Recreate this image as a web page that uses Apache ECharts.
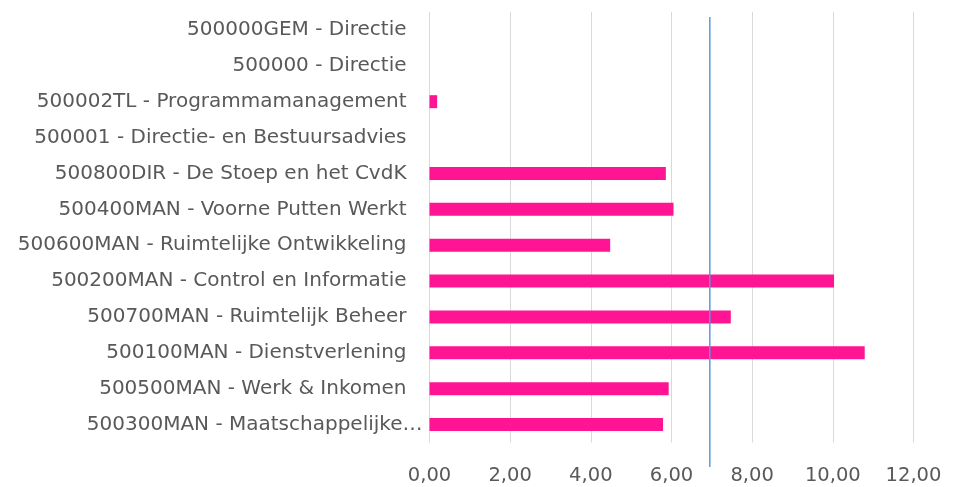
<!DOCTYPE html>
<html>
<head>
<meta charset="utf-8">
<script src="https://cdn.jsdelivr.net/npm/echarts@6/dist/echarts.min.js"></script>
<style>html,body{margin:0;padding:0;background:#fff}#c{width:957px;height:487px}</style>
</head>
<body>
<div id="c"></div>
<script>
const categories = [
  "500000GEM - Directie",
  "500000 - Directie",
  "500002TL - Programmamanagement",
  "500001 - Directie- en Bestuursadvies",
  "500800DIR - De Stoep en het CvdK",
  "500400MAN - Voorne Putten Werkt",
  "500600MAN - Ruimtelijke Ontwikkeling",
  "500200MAN - Control en Informatie",
  "500700MAN - Ruimtelijk Beheer",
  "500100MAN - Dienstverlening",
  "500500MAN - Werk & Inkomen",
  "500300MAN - Maatschappelijke…"
];
const values = [0, 0, 0.19, 0, 5.86, 6.05, 4.48, 10.03, 7.47, 10.79, 5.93, 5.79];
const referenceValue = 6.95;
const xTicks = [0, 2, 4, 6, 8, 10, 12];

const chart = echarts.init(document.getElementById('c'));
const fmt = v => v.toFixed(2).replace('.', ',');
const font = '"DejaVu Sans", sans-serif';
const catData = categories.map((c, i) => i === categories.length - 1
  ? {value: c, textStyle: {padding: [0, -16, 0, 0]}}
  : c);
chart.setOption({
  animation: false,
  grid: [
    {left: 429.5, right: 43.5, top: 12, bottom: 44.5},
    {left: 429.5, right: 43.5, top: 17, bottom: 20}
  ],
  xAxis: [
    {
      gridIndex: 0, type: 'value', min: xTicks[0], max: xTicks[xTicks.length - 1], interval: 2,
      axisLine: {show: false}, axisTick: {show: false},
      splitLine: {lineStyle: {color: '#d9d9d9', width: 1}},
      axisLabel: {formatter: fmt, color: '#595959', fontSize: 19.5, fontFamily: font, margin: 23}
    },
    {
      gridIndex: 1, type: 'value', min: xTicks[0], max: xTicks[xTicks.length - 1],
      show: false
    }
  ],
  yAxis: [
    {
      gridIndex: 0, type: 'category', data: catData, inverse: true,
      axisLine: {show: false}, axisTick: {show: false},
      axisLabel: {color: '#595959', fontSize: 20, fontFamily: font, margin: 23}
    },
    {gridIndex: 1, type: 'value', min: 0, max: 1, show: false}
  ],
  series: [
    {
      type: 'bar', xAxisIndex: 0, yAxisIndex: 0, data: values,
      barWidth: 13, itemStyle: {color: '#ff1493'}
    },
    {
      type: 'line', xAxisIndex: 1, yAxisIndex: 1,
      data: [[referenceValue, 0], [referenceValue, 1]],
      symbol: 'none', lineStyle: {color: '#5b9bd5', width: 1.5}
    }
  ]
});
</script>
</body>
</html>
